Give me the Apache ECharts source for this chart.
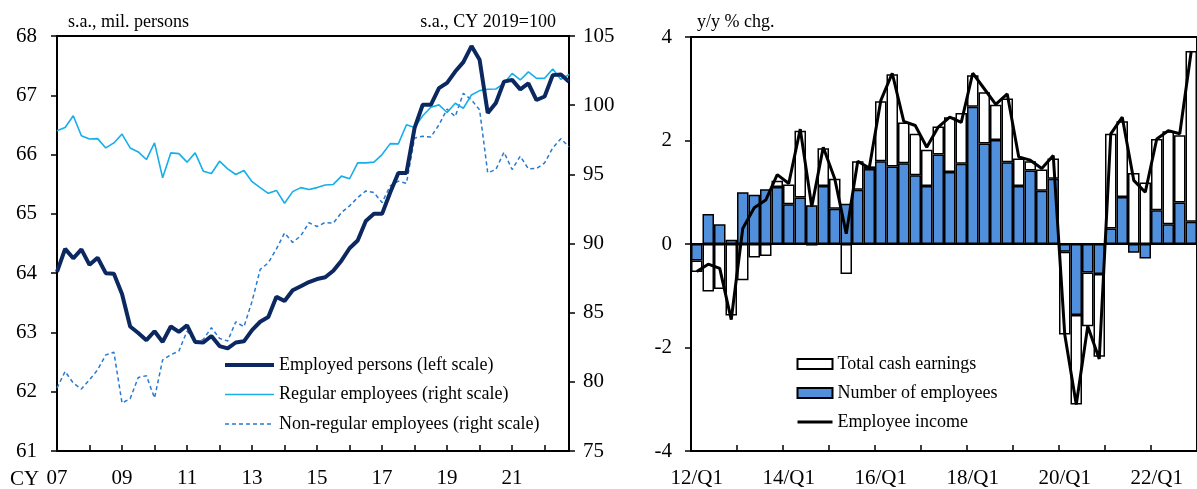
<!DOCTYPE html>
<html>
<head>
<meta charset="utf-8">
<script src="https://cdn.jsdelivr.net/npm/echarts@6/dist/echarts.min.js"></script>
<style>
html,body{margin:0;padding:0;background:#fff;overflow:hidden;}
#c{width:1197px;height:489px;}
</style>
</head>
<body>
<div id="c"></div>
<script>
// ---------- Left panel: employment (quarterly, CY2007Q1 - CY2022Q4) ----------
const leftCategories = [
 '07Q1','07Q2','07Q3','07Q4','08Q1','08Q2','08Q3','08Q4','09Q1','09Q2','09Q3','09Q4',
 '10Q1','10Q2','10Q3','10Q4','11Q1','11Q2','11Q3','11Q4','12Q1','12Q2','12Q3','12Q4',
 '13Q1','13Q2','13Q3','13Q4','14Q1','14Q2','14Q3','14Q4','15Q1','15Q2','15Q3','15Q4',
 '16Q1','16Q2','16Q3','16Q4','17Q1','17Q2','17Q3','17Q4','18Q1','18Q2','18Q3','18Q4',
 '19Q1','19Q2','19Q3','19Q4','20Q1','20Q2','20Q3','20Q4','21Q1','21Q2','21Q3','21Q4',
 '22Q1','22Q2','22Q3','22Q4'
];
const leftTickLabels = {'07Q1':'07','09Q1':'09','11Q1':'11','13Q1':'13','15Q1':'15','17Q1':'17','19Q1':'19','21Q1':'21'};
const employedPersons = [
 64.02,64.41,64.25,64.40,64.14,64.26,64.00,63.99,63.65,63.10,62.99,62.87,
 63.02,62.84,63.10,63.01,63.12,62.84,62.83,62.94,62.77,62.73,62.83,62.85,
 63.04,63.18,63.26,63.60,63.53,63.71,63.78,63.85,63.90,63.93,64.04,64.21,
 64.42,64.55,64.88,65.00,65.00,65.36,65.69,65.69,66.45,66.84,66.84,67.12,
 67.21,67.40,67.56,67.83,67.60,66.70,66.87,67.23,67.26,67.10,67.20,66.92,
 66.98,67.34,67.35,67.23
];
const regularEmployees = [
 98.15,98.39,99.23,97.79,97.55,97.58,96.91,97.27,97.91,96.91,96.62,96.07,
 97.27,94.75,96.55,96.50,95.88,96.55,95.23,95.06,95.95,95.40,94.99,95.28,
 94.47,94.04,93.63,93.84,92.91,93.75,94.04,93.90,94.04,94.23,94.27,94.87,
 94.68,95.83,95.83,95.88,96.43,97.22,97.20,98.58,98.39,99.23,99.85,100.02,
 99.47,100.14,99.78,100.74,101.05,101.15,101.17,101.58,102.29,101.82,102.41,101.94,
 101.94,102.61,101.86,102.22
];
const nonRegularEmployees = [
 79.55,80.75,79.91,79.48,80.15,80.87,81.95,82.14,78.47,78.78,80.32,80.44,
 78.83,81.59,81.95,82.23,83.67,82.90,83.07,83.91,83.14,82.95,84.34,83.98,
 85.82,88.12,88.60,89.61,90.76,90.08,90.56,91.50,91.23,91.52,91.47,92.24,
 92.72,93.32,93.80,93.68,92.96,94.16,94.51,94.35,97.63,97.75,97.70,98.58,
 99.71,99.18,100.86,100.38,99.66,95.11,95.35,96.60,95.35,96.31,95.40,95.42,
 95.83,96.91,97.58,96.98
];

// ---------- Right panel: employee income (y/y % chg., 2012Q1 - 2022Q4) ----------
const rightCategories = [
 '12/Q1','12/Q2','12/Q3','12/Q4','13/Q1','13/Q2','13/Q3','13/Q4','14/Q1','14/Q2','14/Q3','14/Q4',
 '15/Q1','15/Q2','15/Q3','15/Q4','16/Q1','16/Q2','16/Q3','16/Q4','17/Q1','17/Q2','17/Q3','17/Q4',
 '18/Q1','18/Q2','18/Q3','18/Q4','19/Q1','19/Q2','19/Q3','19/Q4','20/Q1','20/Q2','20/Q3','20/Q4',
 '21/Q1','21/Q2','21/Q3','21/Q4','22/Q1','22/Q2','22/Q3','22/Q4'
];
const numberOfEmployees = [
 -0.32,0.58,0.38,0.08,1.00,0.95,1.06,1.10,0.77,0.90,0.75,1.12,
 0.68,0.78,1.05,1.45,1.60,1.50,1.56,1.33,1.12,1.73,1.39,1.55,
 2.65,1.94,2.01,1.58,1.12,1.42,1.03,1.26,-0.15,-1.37,-0.55,-0.58,
 0.30,0.91,-0.17,-0.28,0.65,0.38,0.80,0.43
];
const totalCashEarnings = [
 -0.22,-0.92,-0.87,-1.38,-0.70,-0.26,-0.23,0.12,0.38,1.29,-0.03,0.73,
 0.58,-0.58,0.55,0.05,1.16,1.78,0.79,0.80,0.70,0.54,1.06,0.98,
 0.61,0.99,0.68,1.23,0.53,0.18,0.41,0.39,-1.60,-1.73,-1.04,-1.60,
 1.83,1.46,1.37,1.19,1.38,1.80,1.30,3.30
];
const employeeIncome = [
 -0.53,-0.39,-0.47,-1.46,0.30,0.70,0.85,1.34,1.17,2.22,0.72,1.87,
 1.26,0.20,1.60,1.47,2.77,3.30,2.37,2.29,1.87,2.26,2.45,2.35,
 3.30,3.00,2.70,2.90,1.68,1.62,1.46,1.71,-1.75,-3.10,-1.59,-2.22,
 2.13,2.45,1.23,1.00,2.03,2.19,2.13,3.73
];

const FONT = '"Liberation Serif", "Times New Roman", serif';
const chart = echarts.init(document.getElementById('c'), null, {renderer: 'canvas'});

const axisLbl = {color: '#000', fontFamily: FONT, fontSize: 21};
const blackLine = {lineStyle: {color: '#000', width: 2}};
const noSymbol = {opacity: 0};

chart.setOption({
  animation: false,
  backgroundColor: '#fff',
  grid: [
    {left: 57, top: 36, width: 512, height: 417, show: true, borderColor: '#000', borderWidth: 2, backgroundColor: 'transparent'},
    {left: 691, top: 37, width: 514, height: 416, show: true, borderColor: '#000', borderWidth: 2, backgroundColor: 'transparent'}
  ],
  xAxis: [
    {
      gridIndex: 0, type: 'category', data: leftCategories, boundaryGap: false,
      axisLine: Object.assign({onZero: false}, blackLine),
      axisTick: {show: true, inside: true, length: 6, interval: 3, lineStyle: {color: '#000', width: 1.5}},
      axisLabel: Object.assign({interval: 7, margin: 17, formatter: v => leftTickLabels[v] || ''}, axisLbl),
      splitLine: {show: false}
    },
    {
      gridIndex: 1, type: 'category', data: rightCategories, boundaryGap: true,
      axisLine: Object.assign({onZero: false}, blackLine),
      axisTick: {show: true, inside: true, length: 6, interval: 3, alignWithLabel: false, lineStyle: {color: '#000', width: 1.5}},
      axisLabel: Object.assign({interval: 7, margin: 17}, axisLbl),
      splitLine: {show: false}
    }
  ],
  yAxis: [
    {
      gridIndex: 0, type: 'value', min: 61, max: 68, interval: 1, position: 'left',
      axisLine: Object.assign({show: true}, blackLine),
      axisTick: {show: true, length: 6, lineStyle: {color: '#000', width: 1.5}},
      axisLabel: Object.assign({margin: 20}, axisLbl),
      splitLine: {show: false}
    },
    {
      gridIndex: 0, type: 'value', min: 75, max: 105, interval: 5, position: 'right',
      axisLine: Object.assign({show: true}, blackLine),
      axisTick: {show: true, length: 6, lineStyle: {color: '#000', width: 1.5}},
      axisLabel: Object.assign({margin: 14}, axisLbl),
      splitLine: {show: false}
    },
    {
      gridIndex: 1, type: 'value', min: -4, max: 4, interval: 2, position: 'left',
      axisLine: Object.assign({show: true}, blackLine),
      axisTick: {show: true, length: 6, lineStyle: {color: '#000', width: 1.5}},
      axisLabel: Object.assign({margin: 19}, axisLbl),
      splitLine: {show: false}
    }
  ],
  legend: [
    {
      orient: 'vertical', left: 223, top: 356, padding: 0, itemWidth: 49, itemHeight: 10, itemGap: 11.5,
      textStyle: {color: '#000', fontFamily: FONT, fontSize: 18},
      data: [
        {name: 'Employed persons (left scale)', itemStyle: noSymbol, lineStyle: {color: '#0c2860', width: 4}},
        {name: 'Regular employees (right scale)', itemStyle: noSymbol, lineStyle: {color: '#17aeea', width: 1.6}},
        {name: 'Non-regular employees (right scale)', itemStyle: noSymbol, lineStyle: {color: '#2a7ad0', width: 1.5, type: [4, 3]}}
      ]
    },
    {
      orient: 'vertical', left: 796, top: 355, padding: 0, itemWidth: 35, itemHeight: 10, itemGap: 11,
      textStyle: {color: '#000', fontFamily: FONT, fontSize: 18},
      data: [
        {name: 'Total cash earnings', icon: 'rect'},
        {name: 'Number of employees', icon: 'rect'},
        {name: 'Employee income', itemStyle: noSymbol, lineStyle: {color: '#000', width: 3}}
      ]
    }
  ],
  graphic: [
    {type: 'text', left: 10, top: 469, style: {text: 'CY', font: '21px ' + FONT, fill: '#000'}},
    {type: 'text', left: 68, top: 13, style: {text: 's.a., mil. persons', font: '18px ' + FONT, fill: '#000'}},
    {type: 'text', right: 1197 - 556, top: 13, style: {text: 's.a., CY 2019=100', font: '18px ' + FONT, fill: '#000'}},
    {type: 'text', left: 697, top: 13, style: {text: 'y/y % chg.', font: '18px ' + FONT, fill: '#000'}}
  ],
  series: [
    {
      name: 'Non-regular employees (right scale)', type: 'line', xAxisIndex: 0, yAxisIndex: 1,
      data: nonRegularEmployees, symbol: 'none', z: 3,
      lineStyle: {color: '#2a7ad0', width: 1.5, type: [4, 3]}, itemStyle: {color: '#2a7ad0'}
    },
    {
      name: 'Regular employees (right scale)', type: 'line', xAxisIndex: 0, yAxisIndex: 1,
      data: regularEmployees, symbol: 'none', z: 4,
      lineStyle: {color: '#17aeea', width: 1.6}, itemStyle: {color: '#17aeea'}
    },
    {
      name: 'Employed persons (left scale)', type: 'line', xAxisIndex: 0, yAxisIndex: 0,
      data: employedPersons, symbol: 'none', z: 5,
      lineStyle: {color: '#0c2860', width: 4}, itemStyle: {color: '#0c2860'}
    },
    {
      name: 'Number of employees', type: 'bar', xAxisIndex: 1, yAxisIndex: 2, stack: 'inc',
      data: numberOfEmployees, barWidth: '100%', z: 2,
      itemStyle: {color: '#4f8fdb', borderColor: '#000', borderWidth: 1.5},
      markLine: {silent: true, symbol: 'none', label: {show: false}, lineStyle: {color: '#000', width: 2, type: 'solid'}, data: [{yAxis: 0}]}
    },
    {
      name: 'Total cash earnings', type: 'bar', xAxisIndex: 1, yAxisIndex: 2, stack: 'inc',
      data: totalCashEarnings, barWidth: '100%', z: 2,
      itemStyle: {color: '#fff', borderColor: '#000', borderWidth: 1.5}
    },
    {
      name: 'Employee income', type: 'line', xAxisIndex: 1, yAxisIndex: 2,
      data: employeeIncome, symbol: 'none', z: 5,
      lineStyle: {color: '#000', width: 3}, itemStyle: {color: '#000'}
    }
  ]
});
</script>
</body>
</html>
